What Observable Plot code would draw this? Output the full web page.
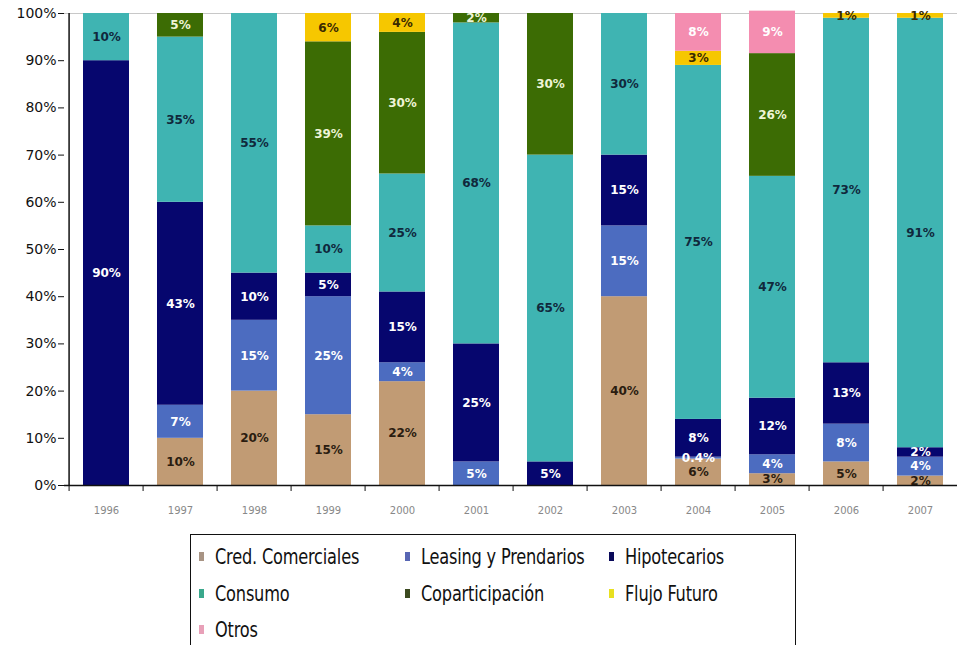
<!DOCTYPE html>
<html>
<head>
<meta charset="utf-8">
<script src="https://cdn.jsdelivr.net/npm/d3@7"></script>
<script src="https://cdn.jsdelivr.net/npm/@observablehq/plot@0.6"></script>
<style>
  html, body { margin: 0; padding: 0; background: #fff; overflow: hidden; }
  #wrap { position: relative; width: 957px; height: 645px; overflow: hidden; }
  #legend { position: absolute; left: 190px; top: 534px; width: 606px; height: 130px;
            border: 1.5px solid #111; box-sizing: border-box; background: #fff; }
  .item { position: absolute; display: flex; align-items: center; height: 24px; }
  .sw { width: 5px; height: 9px; margin-right: 11px; }
  .lab { font-family: "DejaVu Sans Condensed", "Liberation Sans Narrow", "DejaVu Sans", sans-serif;
         font-stretch: condensed; font-size: 18px; color: #111; letter-spacing: -0.2px;
         display: inline-block; transform: scaleY(1.2); transform-origin: left center; }
</style>
</head>
<body>
<div id="wrap"><div id="chart"></div><div id="legend"></div></div>
<script>
const years = ["1996","1997","1998","1999","2000","2001","2002","2003","2004","2005","2006","2007"];
const categories = ["Cred. Comerciales","Leasing y Prendarios","Hipotecarios","Consumo","Coparticipación","Flujo Futuro","Otros"];
const colors = ["#C19B74","#4C6CC0","#06066E","#3FB4B2","#3C6C04","#F6C700","#F48DB0"];
const textColors = ["#2a1c10","#ffffff","#ffffff","#10283c","#eef4d6","#3a2a00","#ffffff"];
const legendSwatch = ["#a89484","#5866b4","#0a0a5a","#3aa88c","#3c4a20","#e8e020","#e8a0b8"];

const comerciales     = [0, 10, 20, 15, 22, 0, 0, 40, 5.6, 2.5, 5, 2];
const leasing         = [0, 7, 15, 25, 4, 5, 0, 15, 0.4, 4, 8, 4];
const hipotecarios    = [90, 43, 10, 5, 15, 25, 5, 15, 8, 12, 13, 2];
const consumo         = [10, 35, 55, 10, 25, 68, 65, 30, 75, 47, 73, 91];
const coparticipacion = [0, 5, 0, 39, 30, 2, 30, 0, 0, 26, 0, 0];
const flujoFuturo     = [0, 0, 0, 6, 4, 0, 0, 0, 3, 0, 1, 1];
const otros           = [0, 0, 0, 0, 0, 0, 0, 0, 8, 9, 0, 0];
const series = [comerciales, leasing, hipotecarios, consumo, coparticipacion, flujoFuturo, otros];
const yTicks = [0,10,20,30,40,50,60,70,80,90,100];

const data = [];
years.forEach((year, i) => {
  categories.forEach((cat, j) => {
    const v = series[j][i];
    if (v > 0) data.push({year, cat, value: v, ci: j});
  });
});
const fmt = v => (v < 1 ? String(v) : String(Math.round(v))) + "%";

const W = 962, ML = 64, MR = 0;
const step = (W - ML - MR) / years.length;

const plot = Plot.plot({
  width: W, height: 530,
  marginLeft: ML, marginRight: MR, marginTop: 13, marginBottom: 45,
  style: {maxWidth: "none", fontFamily: "DejaVu Sans, sans-serif", background: "#fff"},
  x: {domain: years, paddingInner: 0.38, paddingOuter: 0.19, label: null},
  y: {domain: [0, 100], label: null},
  color: {domain: categories, range: colors},
  marks: [
    Plot.ruleY([100], {stroke: "#c8c8c8"}),
    Plot.barY(data, Plot.stackY({x: "year", y: "value", fill: "cat", z: "cat", order: categories})),
    Plot.text(data, Plot.stackY({
      x: "year", y: "value", z: "cat", order: categories,
      text: d => fmt(d.value), fill: d => textColors[d.ci],
      fontSize: 12, fontWeight: "bold"
    })),
    Plot.axisY({ticks: yTicks, tickFormat: d => d + "%", tickSize: 6, tickPadding: 2,
                fontSize: 14, color: "#111", label: null}),
    Plot.axisX({tickSize: 0, tickPadding: 21, fontSize: 10, color: "#888", label: null}),
    Plot.axisX({tickSize: 6, text: null, dx: -step / 2, stroke: "#111", label: null}),
    Plot.ruleX([years[0]], {dx: -step / 2, stroke: "#111", strokeWidth: 1.5}),
    Plot.ruleY([0], {stroke: "#111", strokeWidth: 1.5})
  ]
});
document.getElementById("chart").appendChild(plot);

const legend = document.getElementById("legend");
const colX = [8, 214, 418];
const rowY = [9, 46, 82];
categories.forEach((cat, j) => {
  const it = document.createElement("div");
  it.className = "item";
  it.style.left = colX[j % 3] + "px";
  it.style.top = rowY[Math.floor(j / 3)] + "px";
  const sw = document.createElement("span");
  sw.className = "sw";
  sw.style.background = legendSwatch[j];
  const lb = document.createElement("span");
  lb.className = "lab";
  lb.textContent = cat;
  it.appendChild(sw); it.appendChild(lb);
  legend.appendChild(it);
});
</script>
</body>
</html>
